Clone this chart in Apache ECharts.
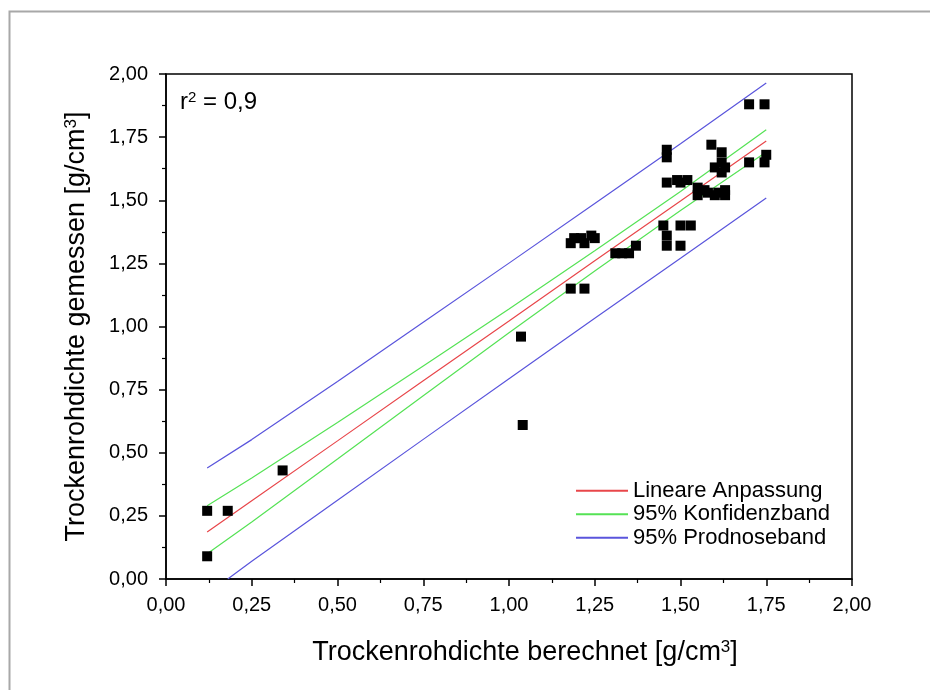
<!DOCTYPE html>
<html>
<head>
<meta charset="utf-8">
<script src="https://cdn.jsdelivr.net/npm/echarts@6/dist/echarts.min.js"></script>
<style>
  html, body { margin: 0; padding: 0; background: #fff; }
  #chart { width: 930px; height: 690px; }
</style>
</head>
<body>
<div id="chart"></div>
<script>
// Measured vs. calculated dry bulk density (g/cm³)
const calcX = [
  0.12, 0.12, 0.18, 0.34, 1.04, 1.035,
  1.18, 1.22,
  1.18, 1.19, 1.21, 1.22, 1.24, 1.25,
  1.31, 1.33, 1.35, 1.37,
  1.45, 1.46, 1.46, 1.50, 1.53, 1.50,
  1.46, 1.49, 1.52, 1.50,
  1.55, 1.58, 1.61, 1.63, 1.55, 1.57, 1.60, 1.63,
  1.46, 1.46,
  1.59, 1.62, 1.62, 1.60, 1.63, 1.62,
  1.70, 1.75, 1.745,
  1.70, 1.745
];
const measY = [
  0.09, 0.27, 0.27, 0.43, 0.61, 0.96,
  1.15, 1.15,
  1.33, 1.35, 1.35, 1.33, 1.36, 1.35,
  1.29, 1.29, 1.29, 1.32,
  1.40, 1.36, 1.32, 1.40, 1.40, 1.32,
  1.57, 1.58, 1.58, 1.57,
  1.55, 1.53, 1.53, 1.54, 1.52, 1.54, 1.52, 1.52,
  1.70, 1.67,
  1.72, 1.69, 1.65, 1.63, 1.63, 1.61,
  1.65, 1.68, 1.65,
  1.88, 1.88
];

// Regression line and bands, sampled along x
const bandX     = [0.12, 0.25, 0.50, 0.75, 1.00, 1.25, 1.50, 1.75];
const fitY      = [0.186, 0.310, 0.547, 0.785, 1.022, 1.260, 1.497, 1.735];
const confUpper = [0.290, 0.400, 0.620, 0.844, 1.069, 1.300, 1.535, 1.779];
const confLower = [0.100, 0.226, 0.475, 0.726, 0.975, 1.220, 1.459, 1.691];
const predUpper = [0.440, 0.552, 0.782, 1.017, 1.251, 1.487, 1.724, 1.964];
const predLowX  = [0.18, 0.25, 0.50, 0.75, 1.00, 1.25, 1.50, 1.75];
const predLower = [0.000, 0.070, 0.312, 0.553, 0.793, 1.033, 1.270, 1.509];

const xTicks = [0, 0.25, 0.5, 0.75, 1, 1.25, 1.5, 1.75, 2];
const yTicks = [0, 0.25, 0.5, 0.75, 1, 1.25, 1.5, 1.75, 2];

const legendNames = ['Lineare Anpassung', '95% Konfidenzband', '95% Prodnoseband'];
const fitColor = '#e8464a';
const confColor = '#55e255';
const predColor = '#5a55dc';

const FONT = '"Liberation Sans", Arial, sans-serif';
const fmt = v => v.toFixed(2).replace('.', ',');
const pairs = (xs, ys) => xs.map((x, i) => [x, ys[i]]);

const chart = echarts.init(document.getElementById('chart'), null, { renderer: 'canvas' });

const supRich = {
  s: { fontSize: 17, fontFamily: FONT, color: '#000', verticalAlign: 'top', lineHeight: 12 }
};

const lineSeries = (name, data, color) => ({
  name, type: 'line', data, showSymbol: false, symbol: 'none',
  lineStyle: { color, width: 1.2 }, itemStyle: { color },
  clip: true, silent: true, z: 3
});

chart.setOption({
  animation: false,
  backgroundColor: '#fff',
  textStyle: { fontFamily: FONT },
  grid: {
    left: 166, right: 78, top: 74, bottom: 111,
    show: true, borderColor: '#000', borderWidth: 1.5, backgroundColor: 'transparent'
  },
  graphic: [
    {
      type: 'rect', left: 7, top: 9, z: -1, silent: true,
      shape: { width: 940, height: 700 },
      style: { fill: 'none', stroke: '#a8a8a8', lineWidth: 2 }
    },
    {
      type: 'text', left: 180, top: 90, z: 10,
      style: {
        text: 'r{s|2} = 0,9',
        fontSize: 24, fontFamily: FONT, fill: '#000',
        rich: { s: { fontSize: 15, fontFamily: FONT, fill: '#000', verticalAlign: 'top', lineHeight: 12 } }
      }
    }
  ],
  legend: {
    data: legendNames,
    orient: 'vertical',
    left: 570, top: 474,
    itemWidth: 52, itemHeight: 12, itemGap: 0,
    itemStyle: { opacity: 0 },
    textStyle: { fontSize: 22, fontFamily: FONT, color: '#000', lineHeight: 23.5 },
    selectedMode: false
  },
  xAxis: {
    type: 'value', min: 0, max: 2, interval: 0.25,
    name: 'Trockenrohdichte berechnet [g/cm{s|3}]',
    nameLocation: 'middle', nameGap: 60,
    nameTextStyle: { fontSize: 27, fontFamily: FONT, color: '#000', padding: [0, 0, 0, 32], rich: supRich },
    axisLine: { lineStyle: { color: '#000', width: 1.5 } },
    axisTick: { inside: false, length: 7, lineStyle: { color: '#000', width: 1.5 } },
    minorTick: { show: true, splitNumber: 2, length: 4, lineStyle: { color: '#000', width: 1.2 } },
    axisLabel: {
      fontSize: 20, fontFamily: FONT, color: '#000', margin: 16,
      formatter: v => xTicks.includes(v) ? fmt(v) : ''
    },
    splitLine: { show: false }
  },
  yAxis: {
    type: 'value', min: 0, max: 2, interval: 0.25,
    name: 'Trockenrohdichte gemessen [g/cm{s|3}]',
    nameLocation: 'middle', nameGap: 76, nameRotate: 90,
    nameTextStyle: { fontSize: 27, fontFamily: FONT, color: '#000', rich: supRich },
    axisLine: { lineStyle: { color: '#000', width: 1.5 } },
    axisTick: { inside: false, length: 7, lineStyle: { color: '#000', width: 1.5 } },
    minorTick: { show: true, splitNumber: 2, length: 4, lineStyle: { color: '#000', width: 1.2 } },
    axisLabel: {
      fontSize: 20, fontFamily: FONT, color: '#000', margin: 18,
      formatter: v => yTicks.includes(v) ? fmt(v) : ''
    },
    splitLine: { show: false }
  },
  series: [
    lineSeries(legendNames[0], pairs(bandX, fitY), fitColor),
    lineSeries(legendNames[1], pairs(bandX, confUpper), confColor),
    lineSeries(legendNames[1], pairs(bandX, confLower), confColor),
    lineSeries(legendNames[2], pairs(bandX, predUpper), predColor),
    lineSeries(legendNames[2], pairs(predLowX, predLower), predColor),
    {
      name: 'Messwerte', type: 'scatter',
      data: pairs(calcX, measY),
      symbol: 'rect', symbolSize: 10,
      itemStyle: { color: '#000', opacity: 1 },
      z: 5, silent: true
    }
  ]
});
</script>
</body>
</html>
